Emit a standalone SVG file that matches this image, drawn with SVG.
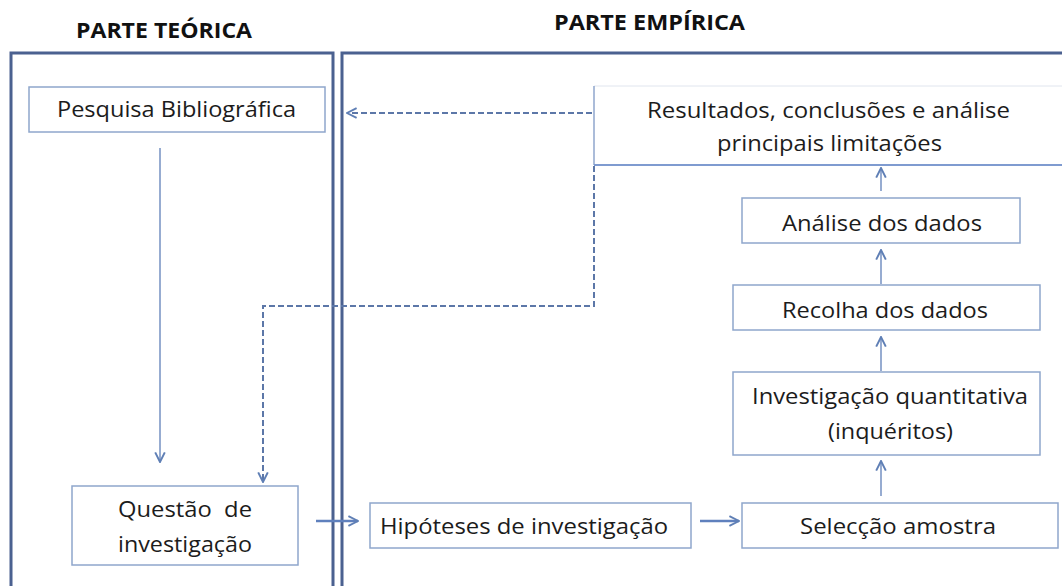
<svg xmlns="http://www.w3.org/2000/svg" width="1062" height="586" viewBox="0 0 1062 586">
<defs>
<style>
.t{font-family:"Open Sans","Liberation Sans",sans-serif;font-size:21.5px;fill:#1c1c1c;white-space:pre;}
.h{font-family:"Open Sans","Liberation Sans",sans-serif;font-size:22px;font-weight:bold;fill:#111;}
.box{fill:#fff;stroke:#8fa6cc;stroke-width:1.5;}
.panel{fill:none;stroke:#4b6190;stroke-width:3;}
.ar{fill:none;stroke:#7591c2;stroke-width:1.5;}
.ar2{fill:none;stroke:#5f80bd;stroke-width:2.5;}
.dash{fill:none;stroke:#5c77a8;stroke-width:2;stroke-dasharray:6,3;}
</style>
<marker id="ah" viewBox="0 0 10 10" refX="9" refY="5" markerWidth="12" markerHeight="12" markerUnits="userSpaceOnUse" orient="auto">
<path d="M1,1 L9,5 L1,9" fill="none" stroke="#5f7fb5" stroke-width="1.6"/>
</marker>
</defs>
<rect width="1062" height="586" fill="#fff"/>
<g id="panels">
<path class="panel" d="M11,590 L11,53 L333,53 L333,590"/>
<path class="panel" d="M342,590 L342,53 L1066,53"/>
</g>
<g id="titles">
<text class="h" x="76" y="38" textLength="176" lengthAdjust="spacingAndGlyphs">PARTE TEÓRICA</text>
<text class="h" x="554" y="30" textLength="191" lengthAdjust="spacingAndGlyphs">PARTE EMPÍRICA</text>
</g>
<g id="connectors">
<line class="ar" x1="160" y1="148" x2="160" y2="462" marker-end="url(#ah)"/>
<line class="ar2" x1="316" y1="521" x2="358" y2="521" marker-end="url(#ah)"/>
<line class="ar2" x1="700" y1="521" x2="739" y2="521" marker-end="url(#ah)"/>
<line class="ar" x1="881" y1="496" x2="881" y2="461" marker-end="url(#ah)"/>
<line class="ar" x1="881" y1="371" x2="881" y2="337" marker-end="url(#ah)"/>
<line class="ar" x1="881" y1="284" x2="881" y2="250" marker-end="url(#ah)"/>
<line class="ar" x1="881" y1="191" x2="881" y2="168" marker-end="url(#ah)"/>
<line class="dash" x1="592" y1="113" x2="347" y2="113" marker-end="url(#ah)"/>
<polyline class="dash" points="594,166 594,306 263,306 263,482" marker-end="url(#ah)"/>
</g>
<g id="n-pesquisa">
<rect class="box" x="29" y="87" width="296" height="45"/>
<text class="t" x="57" y="117" textLength="239" lengthAdjust="spacingAndGlyphs">Pesquisa Bibliográfica</text>
</g>
<g id="n-resultados">
<path d="M594,86 L1066,86" stroke="#e0e5ee" stroke-width="1" fill="none"/>
<path d="M594,86 L594,165" stroke="#8fa6cc" stroke-width="1.5" fill="none"/>
<path d="M594,165 L1066,165" stroke="#7f9bd0" stroke-width="2" fill="none"/>
<text class="t" x="647" y="118" textLength="363" lengthAdjust="spacingAndGlyphs">Resultados, conclusões e análise</text>
<text class="t" x="717" y="151" textLength="225" lengthAdjust="spacingAndGlyphs">principais limitações</text>
</g>
<g id="n-analise">
<rect class="box" x="742" y="198" width="278" height="45"/>
<text class="t" x="782" y="231" textLength="200" lengthAdjust="spacingAndGlyphs">Análise dos dados</text>
</g>
<g id="n-recolha">
<rect class="box" x="733" y="285" width="307" height="45"/>
<text class="t" x="782" y="318" textLength="206" lengthAdjust="spacingAndGlyphs">Recolha dos dados</text>
</g>
<g id="n-investigacao">
<rect class="box" x="733" y="372" width="307" height="83"/>
<text class="t" x="752" y="404" textLength="276" lengthAdjust="spacingAndGlyphs">Investigação quantitativa</text>
<text class="t" x="828" y="439" textLength="125" lengthAdjust="spacingAndGlyphs">(inquéritos)</text>
</g>
<g id="n-seleccao">
<rect class="box" x="742" y="503" width="316" height="45"/>
<text class="t" x="800" y="534" textLength="196" lengthAdjust="spacingAndGlyphs">Selecção amostra</text>
</g>
<g id="n-hipoteses">
<rect class="box" x="370" y="503" width="321" height="45"/>
<text class="t" x="380" y="534" textLength="288" lengthAdjust="spacingAndGlyphs">Hipóteses de investigação</text>
</g>
<g id="n-questao">
<rect class="box" x="72" y="486" width="226" height="79"/>
<text class="t" x="118" y="517" textLength="134" lengthAdjust="spacingAndGlyphs">Questão  de</text>
<text class="t" x="118" y="552" textLength="134" lengthAdjust="spacingAndGlyphs">investigação</text>
</g>
</svg>
